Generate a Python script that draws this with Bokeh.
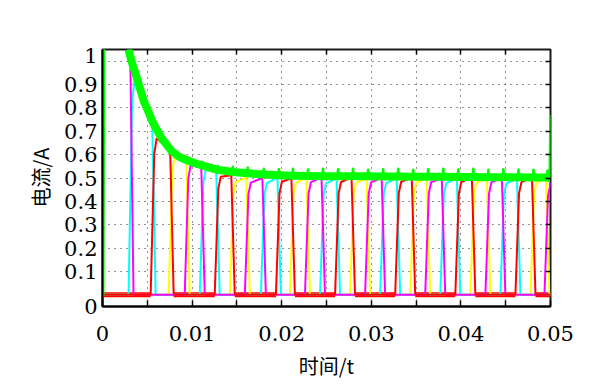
import numpy as np
from bokeh.plotting import figure
from bokeh.models import Range1d, FixedTicker, LinearAxis
from bokeh.embed import file_html
from bokeh.resources import INLINE

# ------------------------------------------------------------------ data
# commutation instants (s): one phase current falls, the next one rises
commutation_t = [0.00324, 0.00571, 0.00772, 0.00951, 0.01119, 0.01286, 0.01454,
                 0.01622, 0.01801, 0.01969, 0.02125, 0.02293, 0.02461, 0.02629,
                 0.02796, 0.02964, 0.03132, 0.03300, 0.03468, 0.03635, 0.03803,
                 0.03971, 0.04139, 0.04307, 0.04474, 0.04642, 0.04810, 0.04966]

# phase of each conduction pulse (pulse k runs from commutation k-1 to k)
phase_order = ["magenta", "cyan", "red", "yellow"]
pulse_phase = [0, 1, 2, 3, 0, 1, 2, 3, 0, 1, 2, 3, 0, 1, 2, 3, 0, 1, 2, 3,
               0, 1, 2, 3, 0, 1, 2, 3, 0]
# current level at start / end of each pulse's flat top (A)
pulse_top_start = [1.35, 0.92, 0.67, 0.585, 0.555, 0.535, 0.505, 0.482, 0.480,
                   0.478, 0.484, 0.479, 0.482, 0.477, 0.483, 0.479, 0.481, 0.478,
                   0.484, 0.479, 0.482, 0.478, 0.483, 0.479, 0.481, 0.477, 0.482,
                   0.478, 0.472]
pulse_top_end = [1.10, 0.745, 0.620, 0.570, 0.545, 0.525, 0.512, 0.503, 0.500,
                 0.502, 0.499, 0.501, 0.503, 0.498, 0.502, 0.500, 0.501, 0.499,
                 0.503, 0.500, 0.501, 0.498, 0.502, 0.500, 0.501, 0.499, 0.502,
                 0.499, 0.482]

# green (total / envelope) current
green_base = [1.00, 0.73, 0.615, 0.575, 0.553, 0.535, 0.526, 0.520, 0.515, 0.512,
              0.510, 0.509, 0.508, 0.508, 0.507, 0.507, 0.506, 0.506, 0.505, 0.505,
              0.505, 0.504, 0.504, 0.503, 0.503, 0.503, 0.502, 0.502]
green_peak = [1.00, 0.735, 0.625, 0.588, 0.568, 0.552, 0.548, 0.545, 0.540, 0.538,
              0.540, 0.536, 0.540, 0.537, 0.540, 0.535, 0.538, 0.540, 0.535, 0.538,
              0.540, 0.536, 0.540, 0.535, 0.538, 0.536, 0.535, 0.532]
green_extra_t = [0.0, 0.00008, 0.0002, 0.0015, 0.0029, 0.0039, 0.0046, 0.0066,
                 0.0086, 0.0104, 0.0499, 0.05]
green_extra_i = [0.0, 0.0, 1.40, 1.25, 1.05, 0.92, 0.83, 0.67, 0.59, 0.562, 0.50, 0.77]

# axes
x_major_ticks = [0.0, 0.01, 0.02, 0.03, 0.04, 0.05]
x_major_labels = ["0", "0.01", "0.02", "0.03", "0.04", "0.05"]
x_minor_ticks = [0.005, 0.015, 0.025, 0.035, 0.045]
x_grid_values = [0.005, 0.01, 0.015, 0.02, 0.025, 0.03, 0.035, 0.04, 0.045]
y_tick_values = [-0.05, 0.1, 0.2, 0.3, 0.4, 0.5, 0.6, 0.7, 0.8, 0.9, 1.025]
y_tick_labels = ["0", "0.1", "0.2", "0.3", "0.4", "0.5", "0.6", "0.7", "0.8", "0.9", "1"]
y_grid_values = [0.1, 0.2, 0.3, 0.4, 0.5, 0.6, 0.7, 0.8, 0.9, 1.0]

colors = {"magenta": "#FF00FF", "cyan": "#00FFFF", "red": "#FF0000",
          "yellow": "#FFFF00", "green": "#00FF00"}

# ------------------------------------------------------------------ build traces
PX = 0.01 / 89.4  # one screen pixel in seconds (edge shape only)


def phase_trace(ph):
    xs, ys = [0.0], [0.0]
    zero_segs = []
    last_zero = 0.0
    for k, p_idx in enumerate(pulse_phase):
        if p_idx != ph:
            continue
        a = 0.0 if k == 0 else commutation_t[k - 1]
        b = commutation_t[k] if k < len(commutation_t) else None
        ts, te = pulse_top_start[k], pulse_top_end[k]
        if k == 0:
            xs += [0.00005, 0.0002]
            ys += [0.0, ts]
        else:
            xs += [a - 3 * PX, a + 0.6 * PX, a + 3 * PX]
            ys += [0.0, 0.9 * ts, ts]
            zero_segs.append((last_zero, a - 3 * PX))
        if b is None:
            xs += [0.05]
            ys += [te]
            last_zero = None
        else:
            xs += [b - 1.5 * PX, b + 2 * PX]
            ys += [te, 0.0]
            last_zero = b + 2 * PX
    if last_zero is not None:
        xs.append(0.05)
        ys.append(0.0)
        zero_segs.append((last_zero, 0.05))
    return xs, ys, zero_segs


# thin green trace (with commutation spikes) and the noisy band (base only)
pts = list(zip(green_extra_t, green_extra_i))
band = list(zip(green_extra_t, green_extra_i))
for t, base, peak in zip(commutation_t, green_base, green_peak):
    pts += [(t - 0.8 * PX, base), (t, peak), (t + 0.8 * PX, base)]
    band += [(t, base)]
pts.sort()
band.sort()
g_t = [q[0] for q in pts]
g_i = [q[1] for q in pts]
b_t = [q[0] for q in band if 0.0029 <= q[0] <= 0.0499]
b_i = [q[1] for q in band if 0.0029 <= q[0] <= 0.0499]

# ------------------------------------------------------------------ figure
p = figure(width=616, height=392, output_backend="svg", toolbar_location=None,
           x_range=Range1d(0, 0.05), y_range=Range1d(-0.05, 1.05),
           min_border_left=102, min_border_right=66, min_border_top=49,
           min_border_bottom=86, background_fill_color="white",
           border_fill_color="white")
p.outline_line_color = "black"
p.outline_line_width = 2
p.outline_line_alpha = 0.9

p.xgrid.ticker = FixedTicker(ticks=x_grid_values)
p.ygrid.ticker = FixedTicker(ticks=y_grid_values)
for g in (p.xgrid, p.ygrid):
    g.grid_line_color = "black"
    g.grid_line_dash = "1 5"
    g.grid_line_width = 1
    g.grid_line_alpha = 0.85

xa = p.xaxis[0]
xa.ticker = FixedTicker(ticks=x_major_ticks, minor_ticks=x_minor_ticks)
xa.major_label_overrides = dict(zip(x_major_ticks, x_major_labels))
xa.major_tick_in = 6
xa.major_tick_out = 0
xa.minor_tick_in = 6
xa.minor_tick_out = 0
xa.minor_tick_line_color = "black"
xa.minor_tick_line_width = 1.5
xa.major_label_standoff = 19
xa.axis_label = "时间/t"
xa.axis_label_standoff = 7

ya = p.yaxis[0]
ya.ticker = FixedTicker(ticks=y_tick_values)
ya.major_label_overrides = dict(zip(y_tick_values, y_tick_labels))
ya.major_tick_in = 0
ya.major_tick_out = 0
ya.minor_tick_line_color = None
ya.major_label_standoff = 5
ya.axis_label = "电流/A"
ya.axis_label_standoff = 6

for ax in (xa, ya):
    ax.axis_line_color = "black"
    ax.axis_line_width = 2
    ax.major_tick_line_color = "black"
    ax.major_tick_line_width = 1.5
    ax.major_label_text_font = "DejaVu Serif"
    ax.major_label_text_font_size = "21px"
    ax.major_label_text_color = "black"
    ax.axis_label_text_font = "Noto Sans CJK SC"
    ax.axis_label_text_font_size = "20px"
    ax.axis_label_text_font_style = "normal"
    ax.axis_label_text_color = "black"

# box ticks on top and right (minor ticks only, so no labels)
top = LinearAxis(ticker=FixedTicker(ticks=[], minor_ticks=x_grid_values),
                 minor_tick_in=5, minor_tick_out=0, major_tick_in=0,
                 major_tick_out=0, major_label_standoff=0,
                 axis_line_color=None, minor_tick_line_color="black",
                 minor_tick_line_width=1.5)
p.add_layout(top, "above")
right = LinearAxis(ticker=FixedTicker(ticks=[], minor_ticks=y_grid_values),
                   minor_tick_in=5, minor_tick_out=0, major_tick_in=0,
                   major_tick_out=0, major_label_standoff=0,
                   axis_line_color=None, minor_tick_line_color="black",
                   minor_tick_line_width=1.5)
p.add_layout(right, "right")

# ------------------------------------------------------------------ glyphs
traces = {}
for ph, name in enumerate(phase_order):
    traces[name] = phase_trace(ph)

# thick noisy red zero level
red_zero = traces["red"][2]
p.multi_line(xs=[[a, b] for a, b in red_zero], ys=[[0, 0] for _ in red_zero],
             line_color=colors["red"], line_width=5)

for name in ["yellow", "cyan", "magenta", "red"]:
    xs, ys, _ = traces[name]
    p.line(xs, ys, line_color=colors[name], line_width=2)

# green envelope: thick noisy band plus thin trace carrying the spikes
p.line(b_t, b_i, line_color=colors["green"], line_width=8, line_join="round")
p.line(g_t, g_i, line_color=colors["green"], line_width=2.5, line_join="round")

open("out.html", "w").write(file_html(p, INLINE))
